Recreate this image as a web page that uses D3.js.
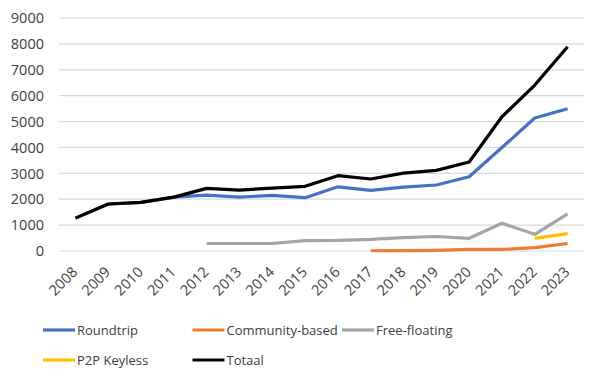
<!DOCTYPE html>
<html>
<head>
<meta charset="utf-8">
<script src="https://cdn.jsdelivr.net/npm/d3@7"></script>
<style>
  body { margin: 0; background: #fff; }
  svg text { font-family: "Open Sans", sans-serif; fill: #404040; }
  .grid line { stroke: #d9d9d9; stroke-width: 1.2px; }
</style>
</head>
<body>
<div id="chart"></div>
<script>
var years = ["2008", "2009", "2010", "2011", "2012", "2013", "2014", "2015",
  "2016", "2017", "2018", "2019", "2020", "2021", "2022", "2023"];
var yTicks = [0, 1000, 2000, 3000, 4000, 5000, 6000, 7000, 8000, 9000];

// null = no data for that year
var roundtrip = [1270, 1815, 1880, 2080, 2160, 2080, 2150, 2060, 2480, 2340, 2470, 2550, 2870, 4000, 5135, 5495];
var community = [null, null, null, null, null, null, null, null, null, 10, 15, 25, 60, 60, 130, 290];
var freeFloating = [null, null, null, null, 290, 290, 290, 400, 410, 450, 520, 560, 490, 1070, 645, 1430];
var p2pKeyless = [null, null, null, null, null, null, null, null, null, null, null, null, null, null, 490, 670];
var totaal = [1270, 1815, 1880, 2080, 2420, 2355, 2430, 2500, 2910, 2780, 3010, 3115, 3440, 5185, 6410, 7890];

var series = [
  {name: "Roundtrip", values: roundtrip, color: "#4472c4"},
  {name: "Community-based", values: community, color: "#ed7d31"},
  {name: "Free-floating", values: freeFloating, color: "#a5a5a5"},
  {name: "P2P Keyless", values: p2pKeyless, color: "#ffc000"},
  {name: "Totaal", values: totaal, color: "#000000"}
];

var width = 600, height = 385;
var margin = {left: 59, right: 16, top: 18, bottom: 134};

var svg = d3.select("#chart").append("svg")
  .attr("width", width)
  .attr("height", height);

var x = d3.scaleBand().domain(years).range([margin.left, width - margin.right]);
var y = d3.scaleLinear().domain([0, 9000]).range([height - margin.bottom, margin.top]);

svg.append("g")
  .attr("class", "grid")
  .selectAll("line")
  .data(yTicks)
  .enter().append("line")
  .attr("x1", margin.left)
  .attr("x2", width - margin.right)
  .attr("y1", function (d) { return y(d); })
  .attr("y2", function (d) { return y(d); });

svg.append("g")
  .selectAll("text")
  .data(yTicks)
  .enter().append("text")
  .attr("x", 44)
  .attr("y", function (d) { return y(d); })
  .attr("dy", "0.36em")
  .attr("text-anchor", "end")
  .style("font-size", "14.5px")
  .text(function (d) { return d; });

svg.append("g")
  .selectAll("text")
  .data(years)
  .enter().append("text")
  .attr("transform", function (d) {
    return "translate(" + (x(d) + x.bandwidth() / 2 + 3) + "," + (height - margin.bottom + 22) + ") rotate(-45)";
  })
  .attr("text-anchor", "end")
  .style("font-size", "14.5px")
  .text(function (d) { return d; });

var line = d3.line()
  .defined(function (d) { return d != null; })
  .x(function (d, i) { return x(years[i]) + x.bandwidth() / 2; })
  .y(function (d) { return y(d); });

svg.append("g")
  .selectAll("path")
  .data(series)
  .enter().append("path")
  .attr("fill", "none")
  .attr("stroke", function (s) { return s.color; })
  .attr("stroke-width", 3.2)
  .attr("stroke-linejoin", "round")
  .attr("d", function (s) { return line(s.values); });

// legend, three per row
var legend = svg.append("g")
  .selectAll("g")
  .data(series)
  .enter().append("g")
  .attr("transform", function (s, i) {
    return "translate(" + (43 + (i % 3) * 149.5) + "," + (330 + Math.floor(i / 3) * 30) + ")";
  });

legend.append("line")
  .attr("x1", 0).attr("x2", 32)
  .attr("stroke", function (s) { return s.color; })
  .attr("stroke-width", 3.2);

legend.append("text")
  .attr("x", 34)
  .attr("dy", "0.36em")
  .style("font-size", "13px")
  .text(function (s) { return s.name; });
</script>
</body>
</html>
